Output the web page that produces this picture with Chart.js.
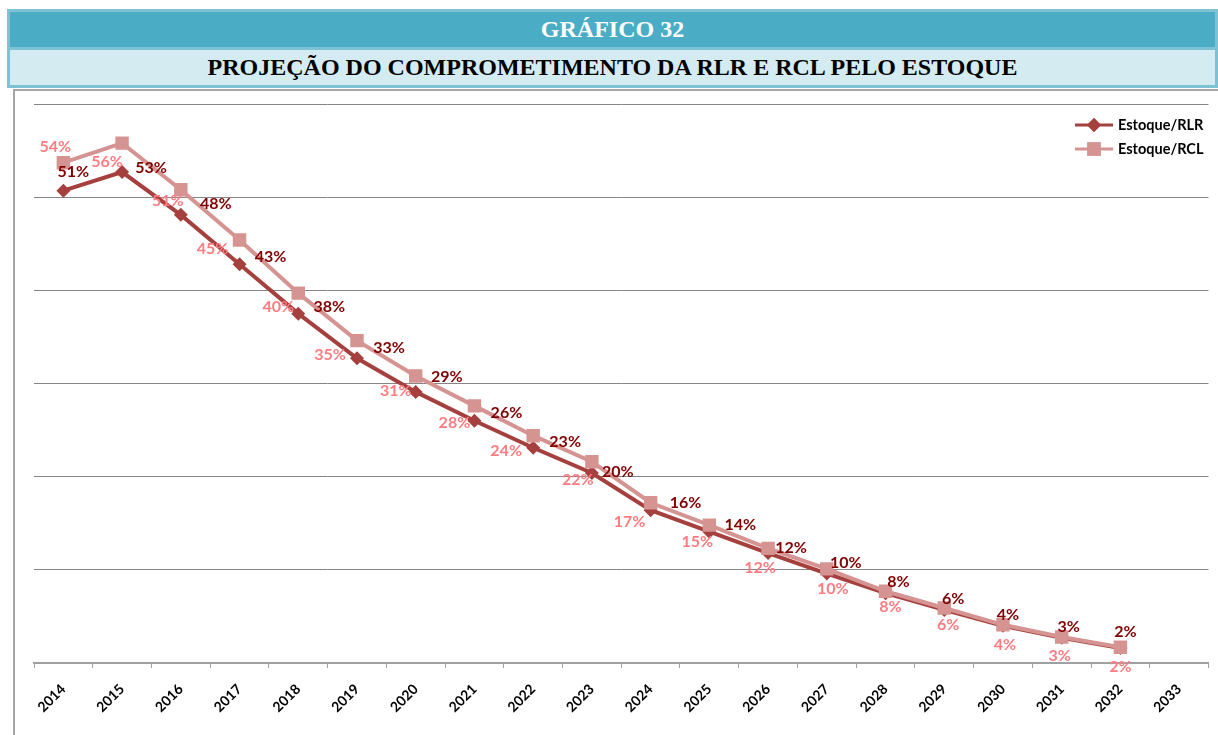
<!DOCTYPE html>
<html>
<head>
<meta charset="utf-8">
<title>Gráfico 32</title>
<script src="https://cdn.jsdelivr.net/npm/chart.js@4.4.1/dist/chart.umd.min.js"></script>
<style>
  html, body { margin: 0; padding: 0; background: #fff; }
  body { width: 1218px; height: 735px; position: relative; overflow: hidden; }
  #header { position: absolute; left: 7px; top: 9px; width: 1211px; height: 79px; background: #7dc1d5; }
  #band-top { position: absolute; left: 3px; top: 3px; width: 1205px; height: 35px; background: #4bacc6;
    color: #fff; font: bold 24px "Liberation Serif", "Times New Roman", serif; text-align: center; line-height: 35px; }
  #band-sub { position: absolute; left: 3px; top: 41px; width: 1205px; height: 35px; background: #d5ebf2;
    color: #000; font: bold 24px "Liberation Serif", "Times New Roman", serif; text-align: center; line-height: 35px; }
  #box { position: absolute; left: 13px; top: 89px; width: 1205px; height: 646px;
    border-left: 2px solid #a6a6a6; border-top: 2px solid #a6a6a6; box-sizing: border-box; }
  #chart-wrapper { position: absolute; left: 0; top: 0; width: 1218px; height: 735px; }
</style>
</head>
<body>
<div id="header">
  <div id="band-top">GRÁFICO 32</div>
  <div id="band-sub">PROJEÇÃO DO COMPROMETIMENTO DA RLR E RCL PELO ESTOQUE</div>
</div>
<div id="box"></div>
<div id="chart-wrapper"><canvas id="estoqueChart" width="1218" height="735"></canvas></div>

<script>
/* Grafico 32 - comprometimento da RLR e RCL pelo estoque */

const YEARS = [
  '2014', '2015', '2016', '2017', '2018', '2019', '2020', '2021', '2022', '2023',
  '2024', '2025', '2026', '2027', '2028', '2029', '2030', '2031', '2032', '2033',
];

// valores em %
const ESTOQUE_RLR = [
  50.7, 52.7, 48.1, 42.8, 37.5, 32.7, 29.1, 26.0, 23.1, 20.4,
  16.4, 14.1, 11.8, 9.6, 7.5, 5.7, 4.0, 2.7, 1.6, null,
];
const ESTOQUE_RCL = [
  53.7, 55.8, 50.8, 45.4, 39.7, 34.6, 30.8, 27.6, 24.4, 21.6,
  17.2, 14.8, 12.3, 10.1, 7.7, 5.9, 4.1, 2.8, 1.7, null,
];

const Y_MIN = 0;
const Y_MAX = 60;
const Y_STEP = 10;

// deslocamento dos rotulos em relacao ao ponto [dx, dy]
const RLR_LABEL_OFFSETS = [
  [10, -19], [29, -4], [35, -11], [31, -7], [31, -7], [32, -11], [31, -15], [32, -8], [32, -6], [26, -1],
  [35, -7], [31, -7], [23, -5], [19, -11], [13, -11], [9, -11], [5, -11], [7, -11], [5, -16],
];
const RCL_LABEL_OFFSETS = [
  [-8, -16], [-15, 19], [-13, 11], [-27, 9], [-20, 14], [-27, 14], [-20, 15], [-20, 17], [-27, 15], [-14, 18],
  [-21, 19], [-12, 17], [-8, 19], [6, 20], [5, 16], [4, 17], [2, 20], [-2, 19], [0, 20],
];

const COLOR_RLR = '#a5403e';
const COLOR_RCL = '#d59392';
const LABEL_RLR = '#800000';
const LABEL_RCL = '#ff7c80';
const FONT_FAMILY = 'Lato, Calibri, "DejaVu Sans", sans-serif';

const valueLabels = {
  id: 'valueLabels',
  afterDatasetsDraw(chart) {
    const { ctx } = chart;
    chart.data.datasets.forEach((dataset, datasetIndex) => {
      const meta = chart.getDatasetMeta(datasetIndex);
      const offsets = dataset.labelOffsets || [];
      ctx.save();
      ctx.font = `bold 16px ${FONT_FAMILY}`;
      ctx.textAlign = 'center';
      ctx.textBaseline = 'middle';
      ctx.fillStyle = dataset.labelColor;
      meta.data.forEach((pt, index) => {
        const value = dataset.data[index];
        if (value === null || value === undefined) return;
        const off = offsets[index] || [0, 0];
        ctx.fillText(`${Math.round(value)}%`, pt.x + off[0], pt.y + off[1]);
      });
      ctx.restore();
    });
  },
};

const customLegend = {
  id: 'customLegend',
  afterDraw(chart) {
    const { ctx } = chart;
    const x0 = 1075;
    const rows = [
      { y: 125, ds: chart.data.datasets[0] },
      { y: 149, ds: chart.data.datasets[1] },
    ];
    rows.forEach(({ y, ds }) => {
      ctx.save();
      ctx.strokeStyle = ds.borderColor;
      ctx.lineWidth = 3;
      ctx.beginPath();
      ctx.moveTo(x0, y);
      ctx.lineTo(x0 + 38, y);
      ctx.stroke();
      ctx.fillStyle = ds.pointBackgroundColor;
      Chart.helpers.drawPoint(ctx, {
        pointStyle: ds.pointStyle,
        radius: ds.pointRadius,
        borderWidth: 0,
        rotation: 0,
      }, x0 + 19, y);
      ctx.fill();
      ctx.fillStyle = '#000';
      ctx.font = `bold 14.5px ${FONT_FAMILY}`;
      ctx.textAlign = 'left';
      ctx.textBaseline = 'middle';
      ctx.fillText(ds.label, x0 + 43, y);
      ctx.restore();
    });
  },
};

const data = {
  labels: YEARS,
  datasets: [
    {
      label: 'Estoque/RLR',
      data: ESTOQUE_RLR,
      borderColor: COLOR_RLR,
      backgroundColor: COLOR_RLR,
      pointBackgroundColor: COLOR_RLR,
      pointBorderWidth: 0,
      pointStyle: 'rectRot',
      pointRadius: 7,
      borderWidth: 4,
      tension: 0,
      labelColor: LABEL_RLR,
      labelOffsets: RLR_LABEL_OFFSETS,
      order: 2,
    },
    {
      label: 'Estoque/RCL',
      data: ESTOQUE_RCL,
      borderColor: COLOR_RCL,
      backgroundColor: COLOR_RCL,
      pointBackgroundColor: COLOR_RCL,
      pointBorderWidth: 0,
      pointStyle: 'rect',
      pointRadius: 9.5,
      borderWidth: 4,
      tension: 0,
      labelColor: LABEL_RCL,
      labelOffsets: RCL_LABEL_OFFSETS,
      order: 1,
    },
  ],
};

const options = {
  responsive: false,
  animation: false,
  layout: { padding: { left: 34, top: 104, right: 7, bottom: 0 } },
  plugins: {
    legend: { display: false },
    tooltip: { enabled: false },
  },
  scales: {
    x: {
      offset: true,
      grid: { offset: true, drawOnChartArea: false, tickLength: 5, color: '#a0a0a0', lineWidth: 1 },
      border: { color: '#a0a0a0', width: 2 },
      ticks: {
        autoSkip: false,
        minRotation: 45,
        maxRotation: 45,
        padding: 13,
        color: '#000',
        font: { family: FONT_FAMILY, weight: 'bold', size: 14 },
      },
      afterFit(scale) { scale.height = 72; },
    },
    y: {
      min: Y_MIN,
      max: Y_MAX,
      ticks: { display: false, stepSize: Y_STEP },
      grid: { color: '#868686', lineWidth: 1, drawTicks: false },
      border: { display: false },
      afterFit(scale) { scale.width = 0; },
    },
  },
};

new Chart(document.getElementById('estoqueChart').getContext('2d'), {
  type: 'line',
  data,
  options,
  plugins: [valueLabels, customLegend],
});
</script>
</body>
</html>
